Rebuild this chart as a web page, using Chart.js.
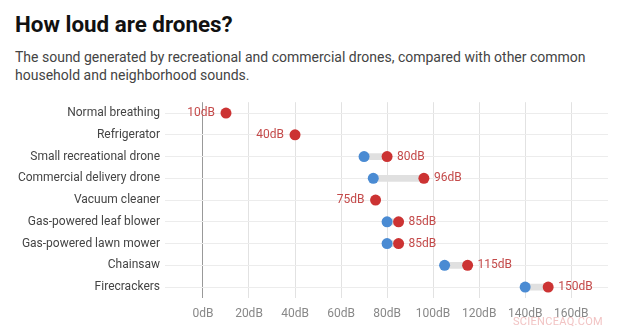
<!DOCTYPE html>
<html>
<head>
<meta charset="utf-8">
<script src="https://cdn.jsdelivr.net/npm/chart.js@4"></script>
<style>
  body { margin: 0; background: #fff; font-family: Roboto, sans-serif; width: 619px; height: 330px; overflow: hidden; position: relative; }
  h1 { position: absolute; left: 15px; top: 11px; margin: 0; font-size: 22.4px; font-weight: 700; color: #111; }
  p.sub { position: absolute; left: 15px; top: 48px; margin: 0; font-size: 14px; line-height: 18px; color: #444; width: 600px; }
  #wrap { position: absolute; left: 0; top: 90px; width: 619px; height: 240px; }
  .mark { position: absolute; right: 16px; bottom: 2px; font-size: 11px; color: #f2c4c4; letter-spacing: 0.3px; }
</style>
</head>
<body>
<h1>How loud are drones?</h1>
<p class="sub">The sound generated by recreational and commercial drones, compared with other common household and neighborhood sounds.</p>
<div id="wrap"><canvas id="chart"></canvas></div>
<div class="mark">SCIENCEAQ.COM</div>
<script>
// sound sources and their levels (dB)
const categories = ["Normal breathing", "Refrigerator", "Small recreational drone", "Commercial delivery drone",
  "Vacuum cleaner", "Gas-powered leaf blower", "Gas-powered lawn mower", "Chainsaw", "Firecrackers"];
const lowValues = [null, null, 70, 74, null, 80, 80, 105, 140];
const highValues = [10, 40, 80, 96, 75, 85, 85, 115, 150];
const tickValues = [0, 20, 40, 60, 80, 100, 120, 140, 160];

const RED = "#cc3333";
const BLUE = "#4a8bd3";

const ranges = categories.map((c, i) => lowValues[i] == null ? null : [lowValues[i], highValues[i]]);

// draws the "NNdB" labels next to the red dots
const valueLabels = {
  id: "valueLabels",
  afterDatasetsDraw(chart) {
    const ctx = chart.ctx;
    const meta = chart.getDatasetMeta(2);
    ctx.save();
    ctx.font = "12px Roboto, sans-serif";
    ctx.fillStyle = "#c44a4a";
    ctx.textBaseline = "middle";
    meta.data.forEach((pt, i) => {
      const txt = highValues[i] + "dB";
      if (lowValues[i] == null) {
        ctx.textAlign = "right";
        ctx.fillText(txt, pt.x - 11, pt.y);
      } else {
        ctx.textAlign = "left";
        ctx.fillText(txt, pt.x + 10, pt.y);
      }
    });
    ctx.restore();
  }
};

new Chart(document.getElementById("chart"), {
  type: "bar",
  data: {
    labels: categories,
    datasets: [
      {
        type: "bar",
        data: ranges,
        backgroundColor: "#e0e0e0",
        barThickness: 6,
        borderWidth: 0,
        order: 3,
      },
      {
        type: "line",
        data: lowValues,
        showLine: false,
        pointRadius: 5.5,
        pointBackgroundColor: BLUE,
        pointBorderColor: BLUE,
        pointBorderWidth: 0,
        order: 2,
      },
      {
        type: "line",
        data: highValues,
        showLine: false,
        pointRadius: 5.5,
        pointBackgroundColor: RED,
        pointBorderColor: RED,
        pointBorderWidth: 0,
        order: 1,
      },
    ],
  },
  options: {
    indexAxis: "y",
    responsive: true,
    maintainAspectRatio: false,
    animation: false,
    layout: { padding: { top: 9, right: 11, bottom: 0, left: 0 } },
    plugins: { legend: { display: false }, tooltip: { enabled: false } },
    scales: {
      x: {
        type: "linear",
        min: -16.5,
        max: 176,
        afterBuildTicks: axis => { axis.ticks = tickValues.map(v => ({ value: v })); },
        afterFit: axis => { axis.height = 32; },
        border: { display: false },
        grid: {
          color: ctx => ctx.tick && ctx.tick.value === 0 ? "#999999" : "#e2e2e2",
          drawTicks: false,
        },
        ticks: {
          color: "#888",
          font: { family: "Roboto", size: 12 },
          padding: 9,
          callback: v => v + "dB",
        },
      },
      y: {
        type: "category",
        afterFit: axis => { axis.width = 165; },
        border: { display: false },
        grid: { offset: false, color: "#ececec", drawTicks: false },
        ticks: {
          color: "#444",
          font: { family: "Roboto", size: 12 },
          padding: 5,
        },
      },
    },
  },
  plugins: [valueLabels],
});
</script>
</body>
</html>
